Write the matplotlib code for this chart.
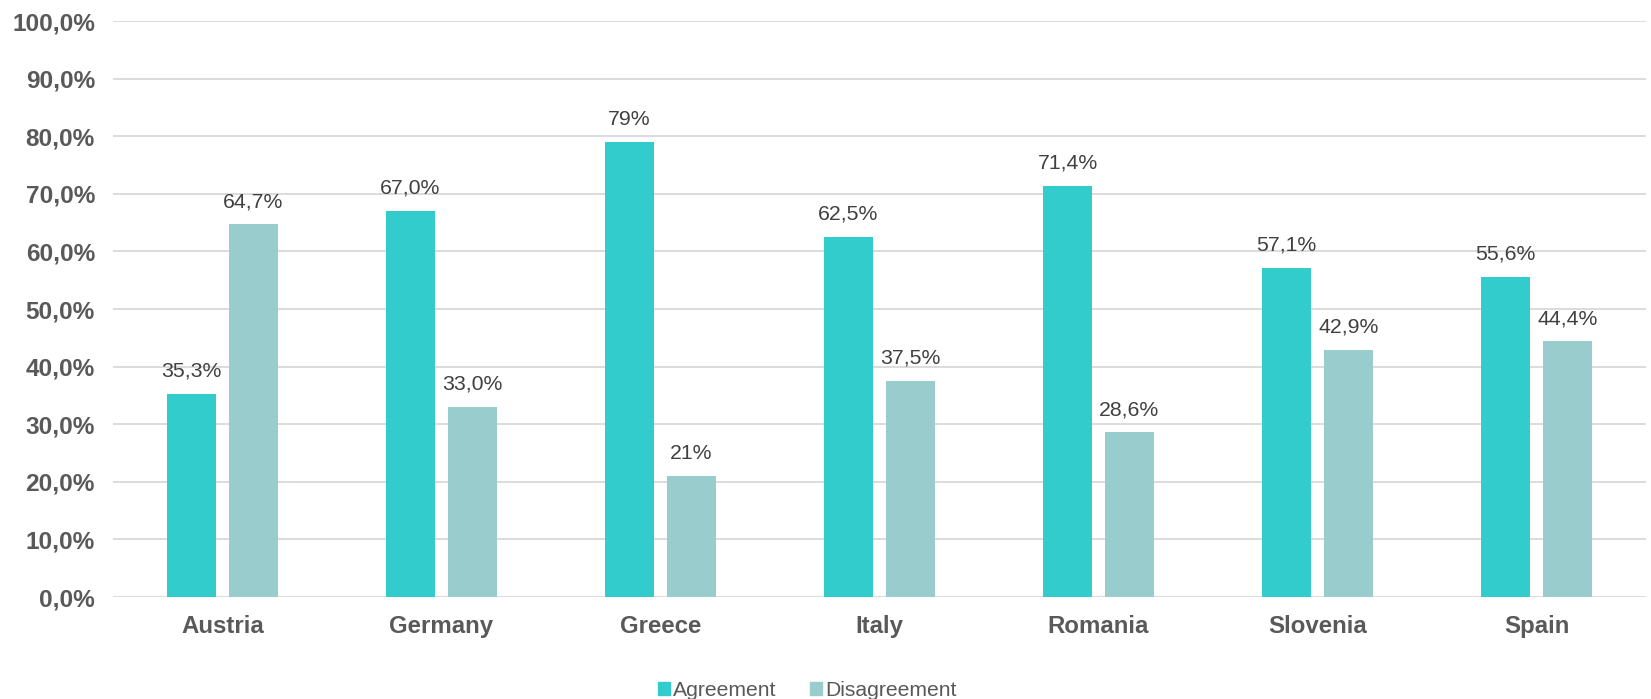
import matplotlib
matplotlib.use("Agg")
import matplotlib.pyplot as plt
import numpy as np
from matplotlib.patches import Patch

categories = ["Austria", "Germany", "Greece", "Italy", "Romania", "Slovenia", "Spain"]
agreement = [35.3, 67.0, 79.0, 62.5, 71.4, 57.1, 55.6]
disagreement = [64.7, 33.0, 21.0, 37.5, 28.6, 42.9, 44.4]
agreement_labels = ["35,3%", "67,0%", "79%", "62,5%", "71,4%", "57,1%", "55,6%"]
disagreement_labels = ["64,7%", "33,0%", "21%", "37,5%", "28,6%", "42,9%", "44,4%"]
yticks = [0, 10, 20, 30, 40, 50, 60, 70, 80, 90, 100]
ytick_labels = ["0,0%", "10,0%", "20,0%", "30,0%", "40,0%", "50,0%", "60,0%",
                "70,0%", "80,0%", "90,0%", "100,0%"]
series_names = ["Agreement", "Disagreement"]

c_agree = "#33CCCC"
c_dis = "#99CCCC"

plt.rcParams['font.family'] = ['Liberation Sans', 'DejaVu Sans']

fig = plt.figure(figsize=(16.51, 6.99), dpi=100)
ax = fig.add_axes([113/1651, 1 - 597/699, (1646 - 113)/1651, (597 - 21)/699])

x = np.arange(len(categories))
w = 0.224
off = 0.1415
b1 = ax.bar(x - off, agreement, w, color=c_agree, zorder=3)
b2 = ax.bar(x + off, disagreement, w, color=c_dis, zorder=3)

for bars, labels in ((b1, agreement_labels), (b2, disagreement_labels)):
    for rect, lab in zip(bars, labels):
        ax.annotate(lab, (rect.get_x() + rect.get_width() / 2, rect.get_height()),
                    xytext=(0, 9.5), textcoords="offset points",
                    ha="center", va="bottom", fontsize=15.3, color="#404040")

ax.set_xlim(-0.5, len(categories) - 0.5)
ax.set_ylim(0, 100)
ax.set_yticks(yticks)
ax.set_yticklabels(ytick_labels, fontsize=17.6, fontweight="bold", color="#595959")
ax.set_xticks(x)
ax.set_xticklabels(categories, fontsize=17.3, fontweight="bold", color="#595959")
ax.tick_params(axis="both", length=0)
ax.tick_params(axis="y", pad=13)
ax.tick_params(axis="x", pad=13)
ax.grid(axis="y", color="#D9D9D9", linewidth=1.3, zorder=0)
for s in ax.spines.values():
    s.set_visible(False)

handles = [Patch(color=c_agree), Patch(color=c_dis)]
fig.legend(handles, series_names, loc="center", bbox_to_anchor=(0.489, 0.012),
           ncol=2, frameon=False, fontsize=15.2, labelcolor="#595959",
           handlelength=0.55, handleheight=0.55, handletextpad=0.15, columnspacing=1.6)

fig.savefig("out.png", dpi=100)
